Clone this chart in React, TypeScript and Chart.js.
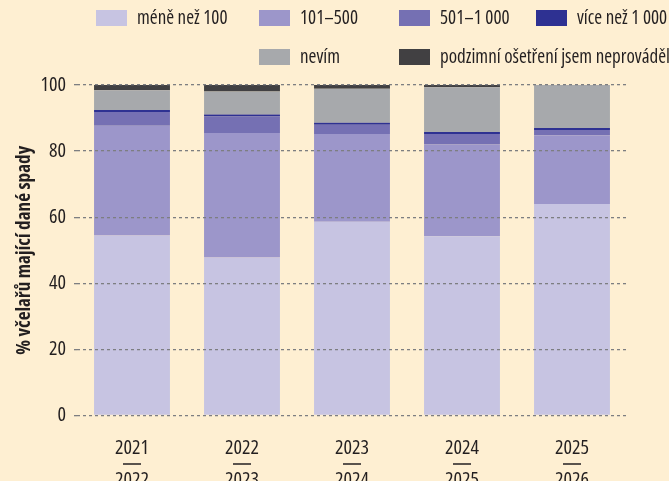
import { useEffect, useRef } from "react";
import { Chart, registerables } from "chart.js";

Chart.register(...registerables);

const seasonsFrom = ["2021", "2022", "2023", "2024", "2025"];
const seasonsTo = ["2022", "2023", "2024", "2025", "2026"];
const seriesNames = [
  "méně než 100",
  "101–500",
  "501–1 000",
  "více než 1 000",
  "nevím",
  "podzimní ošetření jsem neprováděl",
];
const lessThan100 = [54.5, 47.8, 58.6, 54.2, 64.0];
const from101to500 = [33.2, 37.7, 26.6, 27.8, 20.8];
const from501to1000 = [4.1, 5.0, 2.8, 3.2, 1.6];
const moreThan1000 = [0.6, 0.6, 0.6, 0.6, 0.6];
const dontKnow = [6.0, 6.9, 10.3, 13.5, 13.0];
const noTreatment = [1.6, 2.0, 1.1, 0.7, 0.0];
const yMin = 0;
const yMax = 100;
const yStep = 20;
const yTitle = "% včelařů mající dané spady";

const colors = ["#c7c4e2", "#9c96ca", "#7570b3", "#2e3192", "#a7a9ac", "#414042"];
const BG = "#feefd2";
const TEXT = "#231f20";
const GRID = "#7d7e81";
const FAMILY = "'Open Sans', Roboto, sans-serif";

const legendPlugin = {
  id: "gridLegend",
  afterDraw(chart: any) {
    const ctx = chart.ctx;
    const cols = [96, 259, 399, 536];
    const rows = [18, 57];
    const slots = [
      [0, 0],
      [0, 1],
      [0, 2],
      [0, 3],
      [1, 1],
      [1, 2],
    ];
    ctx.save();
    chart.data.datasets.forEach((ds: any, i: number) => {
      const [r, c] = slots[i];
      const x = cols[c];
      const y = rows[r];
      ctx.fillStyle = ds.backgroundColor;
      ctx.fillRect(x, y - 8, 31, 16);
      ctx.fillStyle = TEXT;
      ctx.font = `normal condensed 19px ${FAMILY}`;
      ctx.textBaseline = "middle";
      ctx.textAlign = "left";
      ctx.fillText(ds.label, x + 41, y + 1);
    });
    ctx.restore();
  },
};

const fractionPlugin = {
  id: "fractionBars",
  afterDraw(chart: any) {
    const ctx = chart.ctx;
    const xs = chart.scales.x;
    ctx.save();
    ctx.strokeStyle = TEXT;
    ctx.lineWidth = 1.5;
    xs.ticks.forEach((_t: any, i: number) => {
      const px = xs.getPixelForTick(i);
      ctx.beginPath();
      ctx.moveTo(px - 9, 464);
      ctx.lineTo(px + 9, 464);
      ctx.stroke();
    });
    ctx.restore();
  },
};

export default function App() {
  const ref = useRef<HTMLCanvasElement | null>(null);

  useEffect(() => {
    document.body.style.margin = "0";
    document.body.style.background = BG;
    const canvas = ref.current;
    if (!canvas) return;
    const values = [lessThan100, from101to500, from501to1000, moreThan1000, dontKnow, noTreatment];
    const chart = new Chart(canvas, {
      type: "bar",
      data: {
        labels: seasonsFrom.map((s, i) => [s, seasonsTo[i]]),
        datasets: values.map((v, i) => ({
          label: seriesNames[i],
          data: v,
          backgroundColor: colors[i],
          borderWidth: 0,
          barPercentage: 0.69,
          categoryPercentage: 1,
        })),
      },
      options: {
        responsive: false,
        animation: false,
        layout: { padding: { top: 85, right: 42, left: 0, bottom: 0 } },
        plugins: {
          legend: { display: false },
          tooltip: { enabled: false },
        },
        scales: {
          x: {
            stacked: true,
            grid: { display: false, drawTicks: false },
            border: { display: false },
            ticks: {
              color: TEXT,
              padding: 17,
              font: { family: FAMILY, weight: "normal condensed", size: 20, lineHeight: 1.6 },
              maxRotation: 0,
            },
            afterFit(scale: any) {
              scale.height = 65.5;
            },
          },
          y: {
            stacked: true,
            min: yMin,
            max: yMax,
            ticks: {
              stepSize: yStep,
              color: TEXT,
              padding: 8,
              font: { family: FAMILY, weight: "normal condensed", size: 20 },
            },
            grid: {
              color: GRID,
              lineWidth: 1.3,
              tickLength: 3,
              tickColor: GRID,
              tickBorderDash: [3, 3],
              z: 1,
            },
            border: { display: false, dash: [3, 3] },
            title: {
              display: true,
              text: yTitle,
              color: TEXT,
              font: { family: FAMILY, size: 19.2, weight: "bold condensed", lineHeight: 1.2 },
              padding: { top: 13.5, bottom: 0 },
            },
            afterFit(scale: any) {
              scale.width = 77;
            },
          },
        },
      },
      plugins: [legendPlugin, fractionPlugin],
    } as any);
    return () => chart.destroy();
  }, []);

  return (
    <div style={{ position: "fixed", left: 0, top: 0, width: 669, height: 481, background: BG }}>
      <canvas ref={ref} width={669} height={481} style={{ display: "block" }} />
    </div>
  );
}
